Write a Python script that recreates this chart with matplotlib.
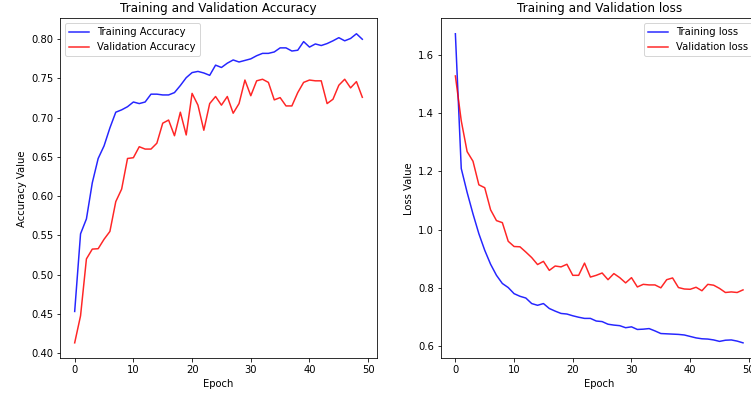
import matplotlib
matplotlib.use("Agg")
import matplotlib.pyplot as plt
import numpy as np

epochs = list(range(50))

train_acc = [0.453, 0.552, 0.571, 0.617, 0.648, 0.664, 0.687, 0.707, 0.710, 0.714,
             0.720, 0.718, 0.720, 0.730, 0.730, 0.729, 0.729, 0.732, 0.741, 0.751,
             0.7575, 0.759, 0.757, 0.754, 0.767, 0.764, 0.7695, 0.7736, 0.771, 0.773,
             0.775, 0.779, 0.782, 0.782, 0.7838, 0.789, 0.789, 0.785, 0.786, 0.797,
             0.790, 0.794, 0.792, 0.7945, 0.798, 0.802, 0.798, 0.801, 0.807, 0.800]

val_acc = [0.413, 0.4475, 0.520, 0.5325, 0.533, 0.545, 0.555, 0.593, 0.609, 0.648,
           0.649, 0.663, 0.660, 0.660, 0.6675, 0.693, 0.697, 0.677, 0.707, 0.678,
           0.731, 0.716, 0.684, 0.718, 0.727, 0.716, 0.727, 0.7057, 0.718, 0.748,
           0.728, 0.747, 0.749, 0.745, 0.7227, 0.7256, 0.715, 0.715, 0.732, 0.745,
           0.748, 0.747, 0.747, 0.718, 0.7235, 0.7414, 0.749, 0.738, 0.746, 0.726]

train_loss = [1.673, 1.210, 1.128, 1.054, 0.986, 0.929, 0.881, 0.843, 0.815, 0.801,
              0.780, 0.771, 0.765, 0.746, 0.740, 0.746, 0.729, 0.720, 0.712, 0.710,
              0.704, 0.699, 0.695, 0.695, 0.686, 0.684, 0.675, 0.672, 0.670, 0.663,
              0.666, 0.657, 0.658, 0.660, 0.652, 0.643, 0.642, 0.641, 0.640, 0.638,
              0.633, 0.628, 0.625, 0.624, 0.621, 0.616, 0.620, 0.621, 0.617, 0.611]

val_loss = [1.528, 1.374, 1.268, 1.235, 1.154, 1.144, 1.068, 1.031, 1.024, 0.960,
            0.942, 0.941, 0.923, 0.904, 0.880, 0.891, 0.860, 0.875, 0.872, 0.881,
            0.843, 0.843, 0.885, 0.837, 0.843, 0.851, 0.828, 0.849, 0.835, 0.817,
            0.835, 0.803, 0.812, 0.810, 0.810, 0.800, 0.828, 0.834, 0.801, 0.796,
            0.795, 0.802, 0.790, 0.812, 0.809, 0.798, 0.784, 0.786, 0.784, 0.793]

W, H = 751, 399
fig = plt.figure(figsize=(W / 72, H / 72), dpi=72)

bottom = (H - 358.3) / H
height = 340 / H
ax1 = fig.add_axes([60.3 / W, bottom, 316.4 / W, height])
ax2 = fig.add_axes([441 / W, bottom, 316.4 / W, height])

ax1.plot(epochs, train_acc, color='b', alpha=0.85, label='Training Accuracy')
ax1.plot(epochs, val_acc, color='r', alpha=0.85, label='Validation Accuracy')
ax1.set_title('Training and Validation Accuracy')
ax1.set_xlabel('Epoch')
ax1.set_ylabel('Accuracy Value')
ax1.set_xticks([0, 10, 20, 30, 40, 50])
ax1.legend(loc='upper left')

ax2.plot(epochs, train_loss, color='b', alpha=0.85, label='Training loss')
ax2.plot(epochs, val_loss, color='r', alpha=0.85, label='Validation loss')
ax2.set_title('Training and Validation loss')
ax2.set_xlabel('Epoch')
ax2.set_ylabel('Loss Value')
ax2.set_xticks([0, 10, 20, 30, 40, 50])
ax2.legend(loc='upper right')

fig.savefig('out.png', dpi=72)
